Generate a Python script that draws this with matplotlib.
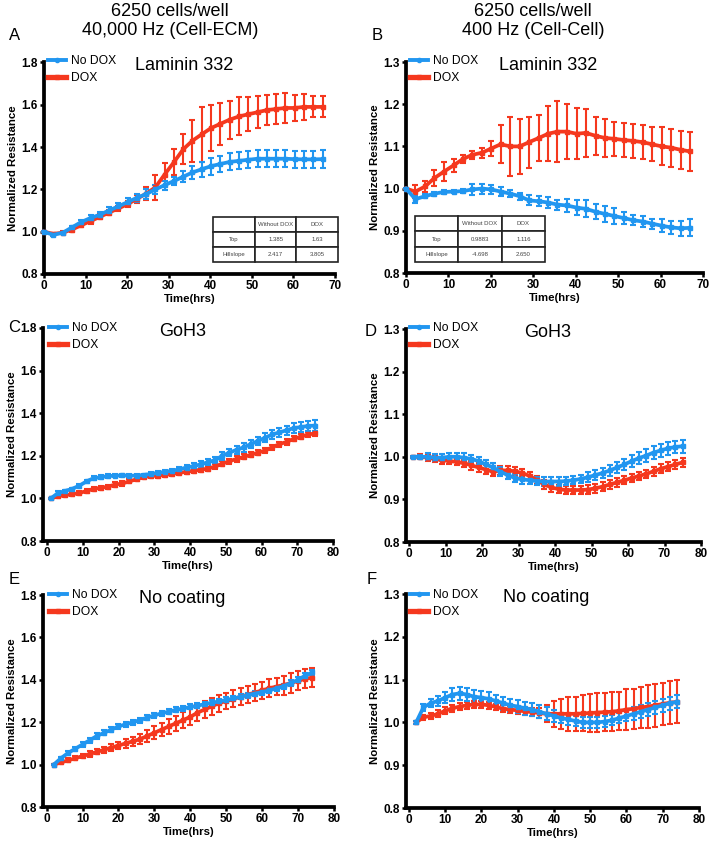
import matplotlib
matplotlib.use('Agg')
import matplotlib.pyplot as plt
from matplotlib.lines import Line2D

plt.rcParams['font.family'] = ['Liberation Sans', 'DejaVu Sans']

BLUE = '#2196F0'
RED = '#F5381E'

# ---- data ----
t_ab = [0, 2.2, 4.5, 6.7, 8.9, 11.2, 13.4, 15.6, 17.9, 20.1,
        22.3, 24.6, 26.8, 29.0, 31.3, 33.5, 35.7, 37.9, 40.2, 42.4,
        44.7, 46.9, 49.1, 51.4, 53.6, 55.8, 58.0, 60.3, 62.5, 64.7, 67.0]

a_nodox = [1.0, 0.985, 0.995, 1.02, 1.045, 1.065, 1.08, 1.1, 1.12, 1.14,
           1.16, 1.178, 1.2, 1.22, 1.24, 1.26, 1.28, 1.295, 1.31, 1.32,
           1.33, 1.335, 1.34, 1.345, 1.345, 1.345, 1.345, 1.343, 1.342, 1.342, 1.343]
a_nodox_err = [0.003, 0.005, 0.005, 0.008, 0.01, 0.012, 0.015, 0.015, 0.015, 0.018,
               0.02, 0.022, 0.022, 0.022, 0.02, 0.025, 0.03, 0.035, 0.04, 0.04,
               0.04, 0.04, 0.04, 0.04, 0.04, 0.04, 0.04, 0.04, 0.04, 0.04, 0.042]
a_dox = [1.0, 0.99, 0.995, 1.01, 1.03, 1.05, 1.07, 1.09, 1.11, 1.13,
         1.155, 1.18, 1.21, 1.27, 1.33, 1.39, 1.43, 1.46, 1.49, 1.51,
         1.53, 1.545, 1.555, 1.565, 1.575, 1.58, 1.585, 1.585, 1.59, 1.59, 1.59]
a_dox_err = [0.003, 0.005, 0.008, 0.01, 0.01, 0.012, 0.012, 0.012, 0.012, 0.015,
             0.02, 0.03, 0.06, 0.055, 0.06, 0.07, 0.1, 0.13, 0.11, 0.1,
             0.09, 0.09, 0.08, 0.075, 0.07, 0.07, 0.07, 0.06, 0.06, 0.05, 0.05]

b_nodox = [1.0, 0.975, 0.982, 0.988, 0.992, 0.993, 0.994, 0.998, 1.0, 0.998,
           0.993, 0.988, 0.982, 0.972, 0.97, 0.967, 0.962, 0.96, 0.955, 0.952,
           0.945, 0.94, 0.935, 0.93, 0.925, 0.922, 0.917, 0.912, 0.908, 0.906, 0.907]
b_nodox_err = [0.002, 0.008, 0.005, 0.005, 0.004, 0.004, 0.004, 0.012, 0.012, 0.01,
               0.01, 0.008, 0.008, 0.012, 0.012, 0.012, 0.012, 0.015, 0.018, 0.02,
               0.018, 0.018, 0.018, 0.015, 0.012, 0.012, 0.012, 0.015, 0.015, 0.018, 0.02]
b_dox = [1.0, 0.993, 1.005, 1.025, 1.04, 1.055, 1.07, 1.08, 1.085, 1.095,
         1.105, 1.10, 1.10, 1.11, 1.12, 1.13, 1.135, 1.135, 1.13, 1.132,
         1.125, 1.12, 1.118, 1.115, 1.113, 1.11, 1.105, 1.10, 1.097, 1.092, 1.088]
b_dox_err = [0.002, 0.015, 0.012, 0.018, 0.022, 0.015, 0.01, 0.01, 0.012, 0.018,
             0.045, 0.07, 0.065, 0.06, 0.055, 0.065, 0.072, 0.065, 0.06, 0.056,
             0.045, 0.045, 0.04, 0.04, 0.04, 0.04, 0.04, 0.045, 0.045, 0.045, 0.047]

t_cd = [1, 3, 5, 7, 9, 11, 13, 15, 17, 19,
        21, 23, 25, 27, 29, 31, 33, 35, 37, 39,
        41, 43, 45, 47, 49, 51, 53, 55, 57, 59,
        61, 63, 65, 67, 69, 71, 73, 75]

c_nodox = [1.0, 1.025, 1.035, 1.045, 1.06, 1.08, 1.095, 1.1, 1.105, 1.107,
           1.108, 1.107, 1.107, 1.11, 1.115, 1.12, 1.125, 1.13, 1.137, 1.145,
           1.152, 1.16, 1.17, 1.18, 1.2, 1.215, 1.228, 1.24, 1.255, 1.27,
           1.285, 1.3, 1.31, 1.32, 1.33, 1.335, 1.34, 1.342]
c_nodox_err = [0.003, 0.008, 0.006, 0.006, 0.006, 0.008, 0.008, 0.008, 0.008, 0.008,
               0.006, 0.006, 0.006, 0.006, 0.008, 0.008, 0.01, 0.01, 0.012, 0.012,
               0.012, 0.015, 0.015, 0.015, 0.018, 0.018, 0.02, 0.02, 0.02, 0.02,
               0.022, 0.022, 0.022, 0.022, 0.025, 0.025, 0.025, 0.025]
c_dox = [1.0, 1.01, 1.015, 1.02, 1.025, 1.035, 1.045, 1.05, 1.055, 1.065,
         1.07, 1.08, 1.09, 1.1, 1.105, 1.107, 1.11, 1.115, 1.12, 1.125,
         1.13, 1.135, 1.14, 1.15, 1.163, 1.175, 1.185, 1.195, 1.205, 1.215,
         1.225, 1.24, 1.255, 1.265, 1.28, 1.29, 1.3, 1.305]
c_dox_err = [0.003, 0.006, 0.008, 0.01, 0.01, 0.01, 0.01, 0.01, 0.01, 0.01,
             0.01, 0.01, 0.01, 0.01, 0.01, 0.01, 0.01, 0.01, 0.01, 0.01,
             0.01, 0.01, 0.01, 0.012, 0.012, 0.012, 0.012, 0.012, 0.012, 0.012,
             0.012, 0.012, 0.012, 0.012, 0.012, 0.012, 0.012, 0.012]

d_nodox = [1.0, 1.0, 1.0, 0.998, 0.998, 1.0, 1.0, 0.998, 0.995, 0.99,
           0.982, 0.975, 0.965, 0.957, 0.95, 0.947, 0.945, 0.943, 0.942, 0.942,
           0.942, 0.943, 0.945, 0.948, 0.952, 0.957, 0.962, 0.968, 0.975, 0.982,
           0.99, 0.997, 1.003, 1.01, 1.015, 1.02, 1.023, 1.025]
d_nodox_err = [0.003, 0.005, 0.008, 0.008, 0.008, 0.01, 0.01, 0.01, 0.01, 0.01,
               0.01, 0.01, 0.01, 0.01, 0.01, 0.01, 0.01, 0.01, 0.01, 0.01,
               0.01, 0.01, 0.01, 0.01, 0.012, 0.012, 0.012, 0.012, 0.012, 0.012,
               0.015, 0.015, 0.015, 0.015, 0.015, 0.015, 0.015, 0.015]
d_dox = [1.0, 1.0, 0.998, 0.995, 0.992, 0.99, 0.988, 0.985, 0.98, 0.975,
         0.97, 0.965, 0.968, 0.968, 0.966, 0.962, 0.955, 0.945, 0.935, 0.928,
         0.924, 0.922, 0.922, 0.922, 0.923, 0.926, 0.93, 0.935, 0.94, 0.945,
         0.95, 0.955, 0.96, 0.966, 0.972, 0.977, 0.982, 0.987]
d_dox_err = [0.003, 0.006, 0.008, 0.008, 0.008, 0.008, 0.008, 0.008, 0.01, 0.01,
             0.01, 0.01, 0.01, 0.01, 0.01, 0.01, 0.01, 0.01, 0.01, 0.01,
             0.01, 0.01, 0.01, 0.01, 0.01, 0.01, 0.01, 0.01, 0.01, 0.01,
             0.01, 0.01, 0.01, 0.01, 0.01, 0.01, 0.01, 0.01]

t_ef = [2, 4, 6, 8, 10, 12, 14, 16, 18, 20,
        22, 24, 26, 28, 30, 32, 34, 36, 38, 40,
        42, 44, 46, 48, 50, 52, 54, 56, 58, 60,
        62, 64, 66, 68, 70, 72, 74]

e_nodox = [1.0, 1.03, 1.055, 1.075, 1.095, 1.115, 1.135, 1.15, 1.165, 1.18,
           1.19, 1.2, 1.21, 1.222, 1.232, 1.242, 1.25, 1.258, 1.265, 1.272,
           1.278, 1.285, 1.292, 1.298, 1.305, 1.312, 1.32, 1.328, 1.335, 1.342,
           1.35, 1.36, 1.37, 1.385, 1.4, 1.42, 1.435]
e_nodox_err = [0.003, 0.008, 0.01, 0.01, 0.012, 0.012, 0.012, 0.012, 0.012, 0.012,
               0.012, 0.012, 0.012, 0.012, 0.012, 0.012, 0.012, 0.012, 0.012, 0.012,
               0.012, 0.012, 0.012, 0.012, 0.012, 0.012, 0.012, 0.012, 0.012, 0.012,
               0.012, 0.012, 0.012, 0.012, 0.012, 0.012, 0.012]
e_dox = [1.0, 1.01, 1.02, 1.03, 1.04, 1.05, 1.06, 1.07, 1.08, 1.09,
         1.1, 1.11, 1.12, 1.135, 1.15, 1.165, 1.18, 1.195, 1.21, 1.225,
         1.245, 1.26, 1.275, 1.29, 1.3, 1.31, 1.32, 1.33, 1.34, 1.35,
         1.36, 1.368, 1.375, 1.385, 1.395, 1.405, 1.41]
e_dox_err = [0.003, 0.008, 0.01, 0.01, 0.01, 0.012, 0.012, 0.015, 0.015, 0.018,
             0.02, 0.022, 0.025, 0.028, 0.03, 0.032, 0.035, 0.035, 0.038, 0.04,
             0.04, 0.04, 0.04, 0.04, 0.04, 0.04, 0.04, 0.04, 0.04, 0.04,
             0.042, 0.042, 0.045, 0.045, 0.045, 0.045, 0.045]

f_nodox = [1.0, 1.035, 1.045, 1.05, 1.058, 1.065, 1.068, 1.065, 1.06, 1.058,
           1.055, 1.05, 1.045, 1.04, 1.037, 1.033, 1.03, 1.025, 1.02, 1.015,
           1.01, 1.007, 1.003, 1.0, 1.0, 1.0, 1.002, 1.005, 1.01, 1.015,
           1.02, 1.025, 1.03, 1.035, 1.04, 1.045, 1.048]
f_nodox_err = [0.003, 0.008, 0.01, 0.012, 0.012, 0.015, 0.015, 0.015, 0.015, 0.015,
               0.015, 0.015, 0.015, 0.015, 0.015, 0.015, 0.015, 0.015, 0.015, 0.015,
               0.012, 0.012, 0.012, 0.012, 0.012, 0.012, 0.012, 0.012, 0.012, 0.012,
               0.015, 0.015, 0.015, 0.015, 0.015, 0.015, 0.015]
f_dox = [1.0, 1.012, 1.015, 1.02, 1.027, 1.033, 1.037, 1.04, 1.042, 1.042,
         1.04, 1.036, 1.032, 1.03, 1.028, 1.026, 1.024, 1.022, 1.02, 1.02,
         1.02, 1.02, 1.02, 1.021, 1.022, 1.023, 1.024, 1.025, 1.027, 1.03,
         1.032, 1.035, 1.037, 1.04, 1.043, 1.046, 1.048]
f_dox_err = [0.003, 0.006, 0.006, 0.008, 0.008, 0.008, 0.008, 0.008, 0.008, 0.008,
             0.008, 0.008, 0.008, 0.008, 0.008, 0.008, 0.01, 0.012, 0.02, 0.03,
             0.035, 0.04, 0.04, 0.042, 0.045, 0.045, 0.045, 0.045, 0.045, 0.047,
             0.047, 0.048, 0.05, 0.05, 0.05, 0.05, 0.05]

table_cols = ['', 'Without DOX', 'DOX']
table_a_rows = [['Top', '1.385', '1.63'], ['Hillslope', '2.417', '3.805']]
table_b_rows = [['Top', '0.9883', '1.116'], ['Hillslope', '-4.698', '2.650']]

W, H = 712, 846
fig = plt.figure(figsize=(W / 100, H / 100), dpi=100)


def add_ax(l, t, r, b):
    return fig.add_axes([l / W, 1 - b / H, (r - l) / W, (b - t) / H])


def style(ax, xlim, xticks, ylim, yticks, name, leg_xy):
    ax.set_xlim(*xlim)
    ax.set_ylim(*ylim)
    ax.set_xticks(xticks)
    ax.set_yticks(yticks)
    ax.set_yticklabels(['%.1f' % v for v in yticks])
    for s in ['top', 'right']:
        ax.spines[s].set_visible(False)
    for s in ['left', 'bottom']:
        ax.spines[s].set_linewidth(2.7)
    ax.tick_params(direction='out', length=3, width=1.8, pad=1.5, labelsize=8.5)
    for lab in ax.get_xticklabels() + ax.get_yticklabels():
        lab.set_fontweight('bold')
    ax.set_xlabel('Time(hrs)', fontsize=8.2, fontweight='bold', labelpad=1)
    ax.set_ylabel('Normalized Resistance', fontsize=8.2, fontweight='bold', labelpad=2)
    ax.text(0.48, 0.985, name, transform=ax.transAxes, ha='center', va='center', fontsize=13)
    handles = [Line2D([], [], color=BLUE, lw=2.8, marker='o', ms=3),
               Line2D([], [], color=RED, lw=3.8, marker='s', ms=3)]
    ax.legend(handles, ['No DOX', 'DOX'], loc='upper left',
              bbox_to_anchor=(leg_xy[0] / W, 1 - leg_xy[1] / H),
              bbox_transform=fig.transFigure, frameon=False, fontsize=8.7,
              handlelength=1.5, handletextpad=0.4, labelspacing=0.45,
              borderpad=0, borderaxespad=0)


def series(ax, t, y, e, color):
    ax.errorbar(t, y, yerr=e, color=color, lw=2.7, marker='s', ms=2.5,
                elinewidth=1.5, capsize=2.3, capthick=1.5, clip_on=False, zorder=3)


def add_table(ax, rows, bbox):
    tb = ax.table(cellText=rows, colLabels=table_cols, cellLoc='center',
                  bbox=bbox, zorder=5)
    tb.auto_set_font_size(False)
    tb.set_fontsize(4.3)
    for cell in tb.get_celld().values():
        cell.set_linewidth(1.2)
        cell.set_edgecolor('#222222')
        cell.get_text().set_color('#444444')
    tb.set_clip_on(False)


panels = [
    # letter, rect, x, y-range, name, legend pos, letter pos
    ('A', (44, 62.5, 335, 274), t_ab, a_nodox, a_nodox_err, a_dox, a_dox_err,
     (0, 70), range(0, 71, 10), (0.8, 1.8), [0.8, 1.0, 1.2, 1.4, 1.6, 1.8],
     'Laminin 332', (48, 55), (9, 35)),
    ('B', (406, 62, 703, 273), t_ab, b_nodox, b_nodox_err, b_dox, b_dox_err,
     (0, 70), range(0, 71, 10), (0.8, 1.3), [0.8, 0.9, 1.0, 1.1, 1.2, 1.3],
     'Laminin 332', (410, 55), (372, 35)),
    ('C', (43, 328, 333, 541), t_cd, c_nodox, c_nodox_err, c_dox, c_dox_err,
     (-1.2, 80), range(0, 81, 10), (0.8, 1.8), [0.8, 1.0, 1.2, 1.4, 1.6, 1.8],
     'GoH3', (49, 322), (8, 327)),
    ('D', (406, 329, 701, 542), t_cd, d_nodox, d_nodox_err, d_dox, d_dox_err,
     (-0.9, 80), range(0, 81, 10), (0.8, 1.3), [0.8, 0.9, 1.0, 1.1, 1.2, 1.3],
     'GoH3', (410, 322), (365, 331)),
    ('E', (43, 595, 334, 807), t_ef, e_nodox, e_nodox_err, e_dox, e_dox_err,
     (-1.0, 80), range(0, 81, 10), (0.8, 1.8), [0.8, 1.0, 1.2, 1.4, 1.6, 1.8],
     'No coating', (49, 589), (9, 580)),
    ('F', (406, 594, 699, 808), t_ef, f_nodox, f_nodox_err, f_dox, f_dox_err,
     (-0.8, 80), range(0, 81, 10), (0.8, 1.3), [0.8, 0.9, 1.0, 1.1, 1.2, 1.3],
     'No coating', (410, 589), (367, 580)),
]

axes = {}
for (letter, rect, t, yn, en, yd, ed, xlim, xt, ylim, yt, name, legxy, letxy) in panels:
    ax = add_ax(*rect)
    series(ax, t, yd, ed, RED)
    series(ax, t, yn, en, BLUE)
    style(ax, xlim, list(xt), ylim, yt, name, legxy)
    fig.text(letxy[0] / W, 1 - letxy[1] / H, letter, fontsize=12, ha='left', va='center')
    axes[letter] = ax

# fit-parameter tables
add_table(axes['A'], table_a_rows, [0.581, 0.057, 0.43, 0.213])
add_table(axes['B'], table_b_rows, [0.03, 0.052, 0.438, 0.218])

# column headers
fig.text(170 / W, 1 - 21 / H, '6250 cells/well\n40,000 Hz (Cell-ECM)',
         ha='center', va='center', fontsize=13, linespacing=1.15)
fig.text(533 / W, 1 - 21 / H, '6250 cells/well\n400 Hz (Cell-Cell)',
         ha='center', va='center', fontsize=13, linespacing=1.15)

fig.savefig('out.png', dpi=100)
